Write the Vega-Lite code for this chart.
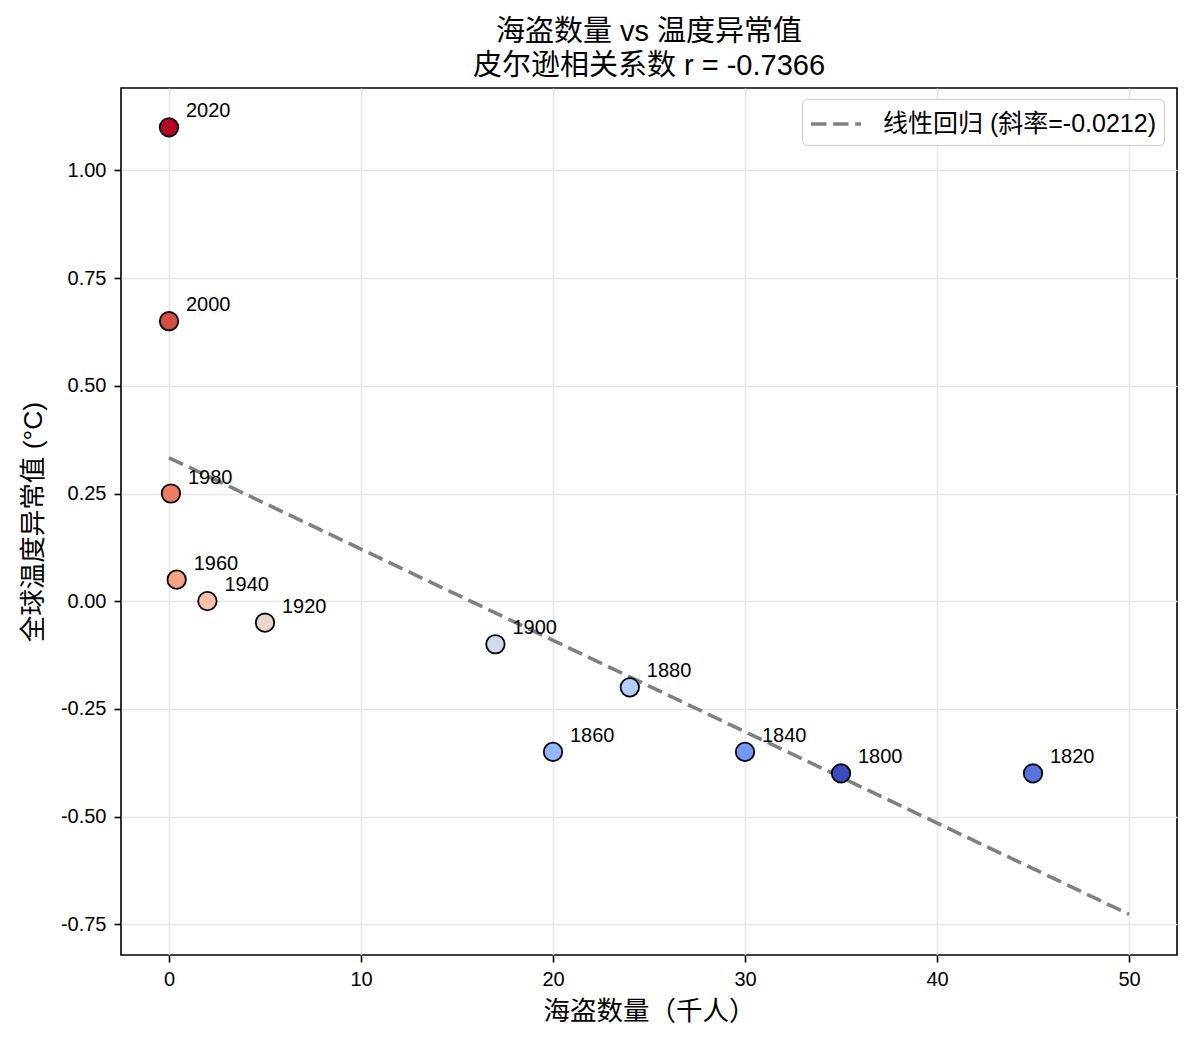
{
  "$schema": "https://vega.github.io/schema/vega-lite/v6.json",
  "width": 1056,
  "height": 867,
  "autosize": {"type": "none"},
  "padding": {"left": 121, "top": 88, "right": 23, "bottom": 95},
  "background": "white",
  "title": {
    "text": ["海盗数量 vs 温度异常值", "皮尔逊相关系数 r = -0.7366"],
    "font": "Liberation Sans, Noto Sans CJK SC",
    "fontSize": 29,
    "fontWeight": "normal",
    "color": "black",
    "lineHeight": 34,
    "offset": 7,
    "anchor": "middle"
  },
  "datasets": {
    "points": [
      {"year": 1800, "pirates": 35, "temp": -0.4},
      {"year": 1820, "pirates": 45, "temp": -0.4},
      {"year": 1840, "pirates": 30, "temp": -0.35},
      {"year": 1860, "pirates": 20, "temp": -0.35},
      {"year": 1880, "pirates": 24, "temp": -0.2},
      {"year": 1900, "pirates": 17, "temp": -0.1},
      {"year": 1920, "pirates": 5, "temp": -0.05},
      {"year": 1940, "pirates": 2, "temp": 0.0},
      {"year": 1960, "pirates": 0.4, "temp": 0.05},
      {"year": 1980, "pirates": 0.1, "temp": 0.25},
      {"year": 2000, "pirates": 0.0, "temp": 0.65},
      {"year": 2020, "pirates": 0.0, "temp": 1.1}
    ],
    "fit": [
      {"pirates": 0, "temp": 0.333, "series": "线性回归 (斜率=-0.0212)"},
      {"pirates": 50, "temp": -0.727, "series": "线性回归 (斜率=-0.0212)"}
    ]
  },
  "layer": [
    {
      "data": {"name": "fit"},
      "mark": {"type": "line", "color": "#808080", "strokeWidth": 3.6, "strokeCap": "butt"},
      "encoding": {
        "x": {"field": "pirates", "type": "quantitative"},
        "y": {"field": "temp", "type": "quantitative"},
        "strokeDash": {
          "field": "series",
          "type": "nominal",
          "scale": {"range": [[15.4, 6.7]]},
          "legend": {
            "orient": "none",
            "legendX": 681,
            "legendY": 11,
            "title": null,
            "symbolType": "M-1.667,0H1.667",
            "symbolSize": 900,
            "symbolOffset": 9,
            "symbolStrokeColor": "#808080",
            "symbolStrokeWidth": 3.6,
            "symbolDash": [15.4, 6.7],
            "labelFont": "Liberation Sans, Noto Sans CJK SC",
            "labelFontSize": 25,
            "labelColor": "black",
            "labelOffset": 30,
            "labelLimit": 0,
            "padding": 8,
            "fillColor": "white",
            "strokeColor": "#cccccc",
            "cornerRadius": 5
          }
        }
      }
    },
    {
      "data": {"name": "points"},
      "mark": {"type": "point", "shape": "circle", "filled": true, "size": 340, "stroke": "black", "strokeWidth": 1.8, "opacity": 1},
      "encoding": {
        "x": {"field": "pirates", "type": "quantitative"},
        "y": {"field": "temp", "type": "quantitative"},
        "fill": {
          "field": "year",
          "type": "nominal",
          "scale": {
            "domain": [1800, 1820, 1840, 1860, 1880, 1900, 1920, 1940, 1960, 1980, 2000, 2020],
            "range": ["#3b4cc0", "#5674e0", "#7598f6", "#95b7ff", "#b4cdfa", "#d1daea", "#e8d6cc", "#f6c1a8", "#f6a384", "#eb7c61", "#d44e41", "#b40426"]
          },
          "legend": null
        }
      }
    },
    {
      "data": {"name": "points"},
      "mark": {"type": "text", "align": "left", "baseline": "alphabetic", "dx": 17, "dy": -10, "fontSize": 20, "font": "Liberation Sans", "color": "black"},
      "encoding": {
        "x": {"field": "pirates", "type": "quantitative"},
        "y": {"field": "temp", "type": "quantitative"},
        "text": {"field": "year", "type": "nominal"}
      }
    }
  ],
  "encoding": {
    "x": {
      "field": "pirates",
      "type": "quantitative",
      "scale": {"domain": [-2.5, 52.5], "nice": false, "zero": false},
      "axis": {
        "title": "海盗数量（千人）",
        "values": [0, 10, 20, 30, 40, 50],
        "format": "d",
        "labelPadding": 7,
        "titlePadding": 9
      }
    },
    "y": {
      "field": "temp",
      "type": "quantitative",
      "scale": {"domain": [-0.8215, 1.1915], "nice": false, "zero": false},
      "axis": {
        "title": "全球温度异常值 (°C)",
        "values": [-0.75, -0.5, -0.25, 0, 0.25, 0.5, 0.75, 1.0],
        "labelExpr": "replace(format(datum.value, '.2f'), '\u2212', '-')",
        "labelPadding": 8,
        "titlePadding": 13
      }
    }
  },
  "config": {
    "view": {"stroke": "black", "strokeWidth": 1.6},
    "axis": {
      "domain": false,
      "grid": true,
      "gridColor": "#e6e6e6",
      "gridWidth": 1.5,
      "ticks": true,
      "tickColor": "black",
      "tickWidth": 1.6,
      "tickSize": 7,
      "labelFont": "Liberation Sans",
      "labelFontSize": 20,
      "labelColor": "black",
      "titleFont": "Liberation Sans, Noto Sans CJK SC",
      "titleFontSize": 26.5,
      "titleFontWeight": "normal",
      "titleColor": "black"
    }
  }
}
